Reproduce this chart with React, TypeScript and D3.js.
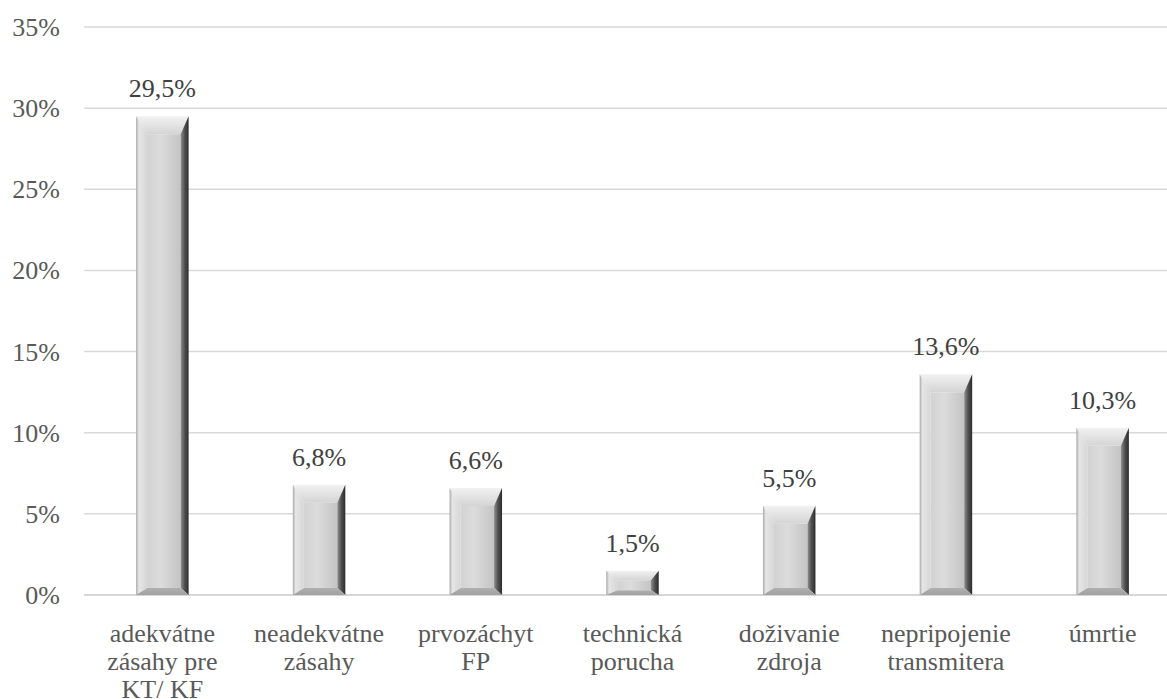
import React from 'react';
import * as d3 from 'd3';

const categories = [
  ['adekvátne', 'zásahy pre', 'KT/ KF'],
  ['neadekvátne', 'zásahy'],
  ['prvozáchyt', 'FP'],
  ['technická', 'porucha'],
  ['doživanie', 'zdroja'],
  ['nepripojenie', 'transmitera'],
  ['úmrtie'],
];
const values = [29.5, 6.8, 6.6, 1.5, 5.5, 13.6, 10.3];
const yTicks = [0, 5, 10, 15, 20, 25, 30, 35];

const W = 1167;
const H = 699;
const FONT = "'Liberation Serif'";

const y = d3.scaleLinear().domain([0, 35]).range([595, 27]);
const x = d3
  .scaleBand<number>()
  .domain(values.map((_, i) => i))
  .range([84, 1181])
  .paddingInner(0.665)
  .paddingOuter(0.3325);

const pts = (p: number[][]) => p.map((q) => q.join(',')).join(' ');

const Bar = ({ i, v }: { i: number; v: number }) => {
  const x0 = x(i)!;
  const x1 = x0 + x.bandwidth();
  const yT = y(v);
  const yB = y(0);
  const h = yB - yT;
  const sl = 11;
  const sr = 8;
  const t = Math.min(18, h * 0.4);
  const b = Math.min(7, h * 0.2);
  return (
    <g>
      <rect x={x0 + sl} y={yT + t} width={x1 - x0 - sl - sr} height={h - t - b} fill="url(#face)" />
      <polygon points={pts([[x0, yT], [x1, yT], [x1 - sr, yT + t], [x0 + sl, yT + t]])} fill="url(#topf)" />
      <polygon points={pts([[x0, yT], [x0 + sl, yT + t], [x0 + sl, yB - b], [x0, yB]])} fill="url(#leftf)" />
      <polygon points={pts([[x1, yT], [x1, yB], [x1 - sr, yB - b], [x1 - sr, yT + t]])} fill="url(#rightf)" />
      <polygon points={pts([[x0, yB], [x0 + sl, yB - b], [x1 - sr, yB - b], [x1, yB]])} fill="url(#botf)" />
    </g>
  );
};

const Grad = ({ id, stops, vertical }: { id: string; stops: [number, string][]; vertical?: boolean }) => (
  <linearGradient id={id} x1={0} y1={0} x2={vertical ? 0 : 1} y2={vertical ? 1 : 0}>
    {stops.map(([o, c]) => (
      <stop key={o} offset={o} stopColor={c} />
    ))}
  </linearGradient>
);

const txt = { fontFamily: FONT, fontSize: 26 };

const App = () => (
  <svg width={W} height={H} style={{ position: 'absolute', left: 0, top: 0, background: '#fff' }}>
    <defs>
      <Grad id="face" stops={[[0, '#d2d2d2'], [0.4, '#dcdcdc'], [1, '#c4c4c4']]} />
      <Grad id="topf" stops={[[0, '#f2f2f2'], [1, '#d4d4d4']]} vertical />
      <Grad id="leftf" stops={[[0, '#a8a8a8'], [0.25, '#e6e6e6'], [1, '#d6d6d6']]} />
      <Grad id="rightf" stops={[[0, '#909090'], [0.5, '#505050'], [1, '#2c2c2c']]} />
      <Grad id="botf" stops={[[0, '#b0b0b0'], [1, '#a0a0a0']]} vertical />
    </defs>

    {yTicks.map((d) => (
      <line
        key={`g${d}`}
        x1={84}
        x2={W}
        y1={y(d)}
        y2={y(d)}
        stroke={d === 0 ? '#c8c8c8' : '#d9d9d9'}
        strokeWidth={1.5}
      />
    ))}

    {yTicks.map((d) => (
      <text key={`t${d}`} x={60} y={y(d) + 9} textAnchor="end" fill="#595959" style={txt}>
        {`${d}%`}
      </text>
    ))}

    {values.map((v, i) => (
      <Bar key={i} i={i} v={v} />
    ))}

    {values.map((v, i) => (
      <text
        key={`l${i}`}
        x={x(i)! + x.bandwidth() / 2}
        y={y(v) - 19}
        textAnchor="middle"
        fill="#404040"
        style={txt}
      >
        {`${v.toFixed(1).replace('.', ',')}%`}
      </text>
    ))}

    {categories.map((lines, i) => (
      <text key={`c${i}`} textAnchor="middle" fill="#595959" style={txt}>
        {lines.map((s, j) => (
          <tspan key={j} x={x(i)! + x.bandwidth() / 2} y={642 + j * 28}>
            {s}
          </tspan>
        ))}
      </text>
    ))}
  </svg>
);

export default App;
